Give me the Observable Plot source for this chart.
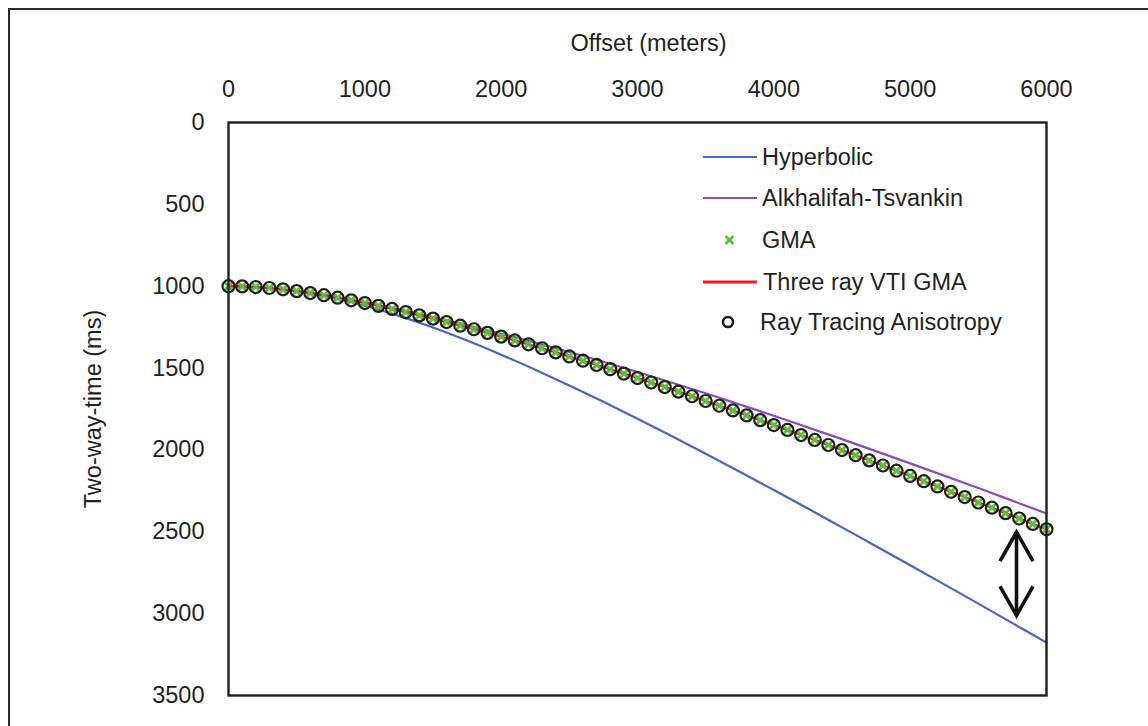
<!DOCTYPE html>
<html>
<head>
<meta charset="utf-8">
<script src="https://cdn.jsdelivr.net/npm/d3@7"></script>
<script src="https://cdn.jsdelivr.net/npm/@observablehq/plot@0.6"></script>
<style>
  html, body { margin: 0; padding: 0; background: #fff; }
  #wrap { position: relative; width: 1148px; height: 726px; overflow: hidden; font-family: "Liberation Sans", Arial, sans-serif; color: #231f20; }
  #outer { position: absolute; left: 8px; top: 8px; right: -10px; bottom: -10px; border-left: 2.5px solid #2a2a2a; border-top: 2.5px solid #2a2a2a; }
  #chart { position: absolute; left: 0; top: 0; }
  #legend { position: absolute; left: 0; top: 0; pointer-events: none; }
</style>
</head>
<body>
<div id="wrap">
  <div id="outer"></div>
  <div id="chart"></div>
  <svg id="legend" width="1148" height="726"></svg>
</div>
<script>
// ---- Data ----
const xTicks = [0, 1000, 2000, 3000, 4000, 5000, 6000];
const yTicks = [0, 500, 1000, 1500, 2000, 2500, 3000, 3500];

// Ray tracing anisotropy samples (offset m, two-way time ms)
const rayOffset = [0,100,200,300,400,500,600,700,800,900,1000,1100,1200,1300,1400,1500,1600,1700,1800,1900,2000,
  2100,2200,2300,2400,2500,2600,2700,2800,2900,3000,3100,3200,3300,3400,3500,3600,3700,3800,3900,4000,
  4100,4200,4300,4400,4500,4600,4700,4800,4900,5000,5100,5200,5300,5400,5500,5600,5700,5800,5900,6000];
const rayTime = [1000,1001,1005,1011,1019,1030,1042,1055,1070,1086,1103,1120,1139,1158,1178,1198,1219,1241,1263,1285,1308,
  1331,1355,1379,1404,1429,1455,1481,1507,1534,1561,1588,1616,1644,1672,1701,1730,1759,1789,1818,1848,
  1878,1909,1939,1970,2001,2032,2064,2095,2127,2159,2191,2223,2256,2288,2321,2353,2386,2419,2452,2485];
// GMA and three-ray VTI GMA overlap the ray tracing samples
const gmaTime = [1000,1001,1005,1011,1019,1030,1042,1055,1070,1086,1103,1120,1139,1158,1178,1198,1219,1241,1263,1285,1308,
  1331,1355,1379,1404,1429,1455,1481,1507,1534,1561,1588,1616,1644,1672,1701,1730,1759,1789,1818,1848,
  1878,1909,1939,1970,2001,2032,2064,2095,2127,2159,2191,2223,2256,2288,2321,2353,2386,2419,2452,2485];
const threeRayTime = [1000,1001,1005,1011,1019,1030,1042,1055,1070,1086,1103,1120,1139,1158,1178,1198,1219,1241,1263,1285,1308,
  1331,1355,1379,1404,1429,1455,1481,1507,1534,1561,1588,1616,1644,1672,1701,1730,1759,1789,1818,1848,
  1878,1909,1939,1970,2001,2032,2064,2095,2127,2159,2191,2223,2256,2288,2321,2353,2386,2419,2452,2485];

// Hyperbolic moveout
const hypOffset = [0,250,500,750,1000,1250,1500,1750,2000,2250,2500,2750,3000,3250,3500,3750,4000,4250,4500,4750,5000,5250,5500,5750,6000];
const hypTime = [1000,1008,1031,1069,1119,1181,1252,1332,1418,1510,1606,1706,1809,1915,2023,2133,2245,2358,2473,2588,2704,2821,2939,3058,3177];

// Alkhalifah-Tsvankin
const atOffset = [0,500,1000,1500,2000,2500,3000,3500,4000,4500,5000,5500,6000];
const atTime = [1000,1029,1099,1189,1290,1402,1524,1654,1791,1934,2082,2233,2388];

// Double-headed arrow annotation (offset m, time range ms)
const arrowOffset = 5780;
const arrowTimes = [2502, 3011];

const seriesNames = ["Hyperbolic", "Alkhalifah-Tsvankin", "GMA", "Three ray VTI GMA", "Ray Tracing Anisotropy"];
const colors = {blue: "#4765c2", purple: "#8a4bbd", green: "#5cbf3b", red: "#ec1c24", black: "#1e1e1e"};

// ---- Tables ----
const rays = rayOffset.map((x, i) => ({offset: x, ray: rayTime[i], gma: gmaTime[i], three: threeRayTime[i]}));
const hyp = hypOffset.map((x, i) => ({offset: x, time: hypTime[i]}));
const at = atOffset.map((x, i) => ({offset: x, time: atTime[i]}));
const shaft = [{x: arrowOffset, y1: arrowTimes[0], y2: arrowTimes[1]}];
const tipTop = [{x: arrowOffset, y: arrowTimes[0]}];
const tipBottom = [{x: arrowOffset, y: arrowTimes[1]}];

// open chevron arrowheads (apex at the data point)
const chevronUp = {draw(ctx) { ctx.moveTo(-16.5, 29); ctx.lineTo(0, 0); ctx.lineTo(16.5, 29); }};
const chevronDown = {draw(ctx) { ctx.moveTo(-16.5, -29); ctx.lineTo(0, 0); ctx.lineTo(16.5, -29); }};

const FS = 23.5;
const chart = Plot.plot({
  width: 1148,
  height: 726,
  marginLeft: 228,
  marginRight: 102,
  marginTop: 122,
  marginBottom: 31,
  style: {fontFamily: '"Liberation Sans", Arial, sans-serif', fontSize: FS + "px", color: "#231f20", background: "transparent", overflow: "visible"},
  x: {domain: [0, 6000]},
  y: {domain: [0, 3500], reverse: true},
  marks: [
    Plot.axisX(xTicks, {anchor: "top", tickSize: 0, tickPadding: 26, fontSize: FS, label: null, tickFormat: d => String(d)}),
    Plot.axisY(yTicks, {anchor: "left", tickSize: 0, tickPadding: 24, fontSize: FS, label: null, tickFormat: d => String(d)}),
    Plot.text(["Offset (meters)"], {frameAnchor: "top", textAnchor: "middle", dx: 11, dy: -88, fontSize: FS, fill: "#231f20"}),
    Plot.text(["Two-way-time (ms)"], {frameAnchor: "left", textAnchor: "middle", rotate: -90, dx: -135, fontSize: FS, fill: "#231f20"}),
    Plot.line(hyp, {x: "offset", y: "time", stroke: colors.blue, strokeWidth: 2.2, curve: "catmull-rom"}),
    Plot.line(at, {x: "offset", y: "time", stroke: colors.purple, strokeWidth: 2.2, curve: "catmull-rom"}),
    Plot.line(rays, {x: "offset", y: "three", stroke: colors.red, strokeWidth: 2.2}),
    Plot.dot(rays, {x: "offset", y: "gma", symbol: "times", r: 4, stroke: colors.green, strokeWidth: 2.8}),
    Plot.dot(rays, {x: "offset", y: "ray", r: 6, stroke: colors.black, strokeWidth: 2.2, fill: "none"}),
    Plot.link(shaft, {x1: "x", y1: "y1", x2: "x", y2: "y2", stroke: "#111", strokeWidth: 3.6}),
    Plot.dot(tipTop, {x: "x", y: "y", symbol: chevronUp, r: 10, fill: "none", stroke: "#111", strokeWidth: 3.6}),
    Plot.dot(tipBottom, {x: "x", y: "y", symbol: chevronDown, r: 10, fill: "none", stroke: "#111", strokeWidth: 3.6}),
    Plot.frame({stroke: "#1e1e1e", strokeWidth: 2.4})
  ]
});
document.getElementById("chart").appendChild(chart);

// ---- Legend ----
const lg = d3.select("#legend");
const rowsY = [157, 198, 240, 282, 322];
const items = [
  {name: seriesNames[0], kind: "line", color: colors.blue, w: 2.2, tx: 762},
  {name: seriesNames[1], kind: "line", color: colors.purple, w: 2.2, tx: 762},
  {name: seriesNames[2], kind: "x", color: colors.green, tx: 762},
  {name: seriesNames[3], kind: "line", color: colors.red, w: 3.2, tx: 763},
  {name: seriesNames[4], kind: "o", color: colors.black, tx: 760}
];
items.forEach((it, i) => {
  const y = rowsY[i];
  if (it.kind === "line") {
    lg.append("line").attr("x1", 703).attr("x2", 757).attr("y1", y).attr("y2", y)
      .attr("stroke", it.color).attr("stroke-width", it.w);
  } else if (it.kind === "x") {
    const s = 4;
    lg.append("path").attr("d", `M${729.5 - s},${y - s}L${729.5 + s},${y + s}M${729.5 - s},${y + s}L${729.5 + s},${y - s}`)
      .attr("stroke", it.color).attr("stroke-width", 2.8);
  } else {
    lg.append("circle").attr("cx", 728).attr("cy", y).attr("r", 5).attr("fill", "none")
      .attr("stroke", it.color).attr("stroke-width", 2.6);
  }
  lg.append("text").attr("x", it.tx).attr("y", y).attr("dy", "0.35em")
    .attr("font-family", '"Liberation Sans", Arial, sans-serif').attr("font-size", FS)
    .attr("fill", "#231f20").text(it.name);
});
</script>
</body>
</html>
